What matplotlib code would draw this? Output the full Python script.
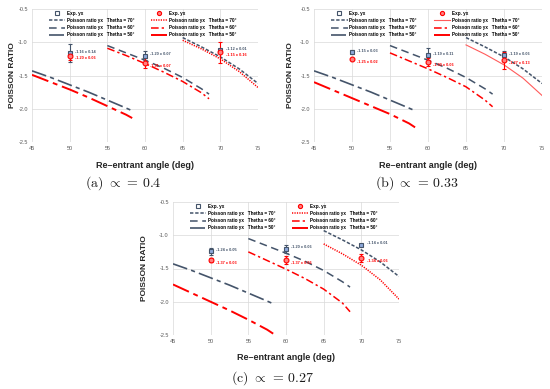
import matplotlib
matplotlib.use("Agg")
import matplotlib.pyplot as plt
from matplotlib.lines import Line2D

plt.rcParams['font.family'] = ['Liberation Sans', 'DejaVu Sans']
plt.rcParams['mathtext.fontset'] = 'cm'

# ---------------- data ----------------
x70 = [65, 67.5, 70, 72.5, 75]
x60 = [55, 57.5, 60, 62.5, 65, 67.5, 68.5]
x50 = [45, 47.5, 50, 52.5, 55, 57.5, 58.3]

blue70 = [-0.93, -1.07, -1.22, -1.40, -1.62]
blue60 = [-1.05, -1.16, -1.27, -1.39, -1.53, -1.70, -1.78]
blue50 = [-1.43, -1.53, -1.64, -1.75, -1.87, -1.99, -2.03]

red70_a = [-0.97, -1.10, -1.25, -1.44, -1.68]
red60_a = [-1.09, -1.20, -1.32, -1.45, -1.59, -1.76, -1.85]
red50_a = [-1.49, -1.60, -1.71, -1.83, -1.96, -2.09, -2.14]

red70_b = [-1.04, -1.18, -1.34, -1.54, -1.80]
red60_b = [-1.16, -1.28, -1.40, -1.53, -1.67, -1.87, -1.97]
red50_b = [-1.60, -1.72, -1.84, -1.96, -2.08, -2.22, -2.28]

red70_c = [-1.13, -1.28, -1.45, -1.67, -1.96]
red60_c = [-1.25, -1.38, -1.51, -1.65, -1.81, -2.02, -2.15]
red50_c = [-1.74, -1.87, -2.00, -2.13, -2.27, -2.42, -2.48]

exp_x = [50, 60, 70]
exp_blue_a = [-1.16, -1.20, -1.12]
err_blue_a = [0.14, 0.07, 0.01]
exp_red_a = [-1.20, -1.31, -1.15]
err_red_a = [0.06, 0.07, 0.16]

exp_blue_b = [-1.15, -1.19, -1.19]
err_blue_b = [0.03, 0.11, 0.06]
exp_red_b = [-1.25, -1.30, -1.27]
err_red_b = [0.02, 0.06, 0.13]

exp_blue_c = [-1.24, -1.20, -1.14]
err_blue_c = [0.05, 0.06, 0.01]
exp_red_c = [-1.37, -1.37, -1.34]
err_red_c = [0.03, 0.06, 0.06]

x_ticks = [45, 50, 55, 60, 65, 70, 75]
y_ticks = [-0.5, -1.0, -1.5, -2.0, -2.5]
captions = [r"$\mathrm{(a)}\ \propto\,=\,0.4$",
            r"$\mathrm{(b)}\ \propto\,=\,0.33$",
            r"$\mathrm{(c)}\ \propto\,=\,0.27$"]
thetas = ["70°", "60°", "50°"]

# ---------------- style ----------------
BLUE = '#44546A'
BLUE_FILL = '#8EA9DB'
RED = '#FF0000'
TXT = '#595959'
W, H = 550, 389

fig = plt.figure(figsize=(5.5, 3.89), dpi=100)


def px_axes(l, r, t, b):
    return fig.add_axes([l / W, 1 - b / H, (r - l) / W, (b - t) / H])


panels = [
    dict(rect=(32, 258, 9, 142), red=(red70_a, red60_a, red50_a), red70_style='dot',
         eb=(exp_blue_a, err_blue_a), er=(exp_red_a, err_red_a),
         ylab_x=12, cap=(123, 183), xlab_y=161),
    dict(rect=(314, 542, 9, 142), red=(red70_b, red60_b, red50_b), red70_style='solid',
         eb=(exp_blue_b, err_blue_b), er=(exp_red_b, err_red_b),
         ylab_x=291, cap=(417, 183), xlab_y=161),
    dict(rect=(173, 399, 202, 335), red=(red70_c, red60_c, red50_c), red70_style='dot',
         eb=(exp_blue_c, err_blue_c), er=(exp_red_c, err_red_c),
         ylab_x=145, cap=(272, 378), xlab_y=353),
]

b_styles = [dict(dashes=(2.2, 1.2), lw=1.1),
            dict(dashes=(5, 3), lw=1.1),
            dict(dashes=(9, 2.5, 2.5, 2.5), lw=1.2)]
r_styles = [None,
            dict(dashes=(5, 2, 1.5, 2), lw=1.1),
            dict(dashes=(9, 2.5, 2.5, 2.5), lw=1.4)]

for i, p in enumerate(panels):
    l, r, t, b = p['rect']
    ax = px_axes(l, r, t, b)
    ax.set_xlim(45, 75)
    ax.set_ylim(-2.5, -0.5)
    ax.set_xticks(x_ticks)
    ax.set_yticks(y_ticks)
    ax.set_yticklabels([f"{v:.1f}" for v in y_ticks])
    ax.tick_params(length=0, labelsize=4, colors=TXT, pad=3)
    ax.grid(True, color='#D9D9D9', lw=0.5)
    ax.set_axisbelow(True)
    for s in ax.spines.values():
        s.set_visible(False)

    # blue curves
    hb = []
    for xs, ys, st in zip((x70, x60, x50), (blue70, blue60, blue50), b_styles):
        ln, = ax.plot(xs, ys, color=BLUE, **st)
        hb.append(ln)
    # red curves
    hr = []
    rs = p['red']
    if p['red70_style'] == 'dot':
        ln, = ax.plot(x70, rs[0], color=RED, lw=1.1, ls=(0, (0.8, 0.8)))
    else:
        ln, = ax.plot(x70, rs[0], color='#FF5B5B', lw=0.8, ls='-')
    hr.append(ln)
    for xs, ys, st in zip((x60, x50), rs[1:], r_styles[1:]):
        ln, = ax.plot(xs, ys, color=RED, **st)
        hr.append(ln)

    # experimental points
    yb, eb = p['eb']
    yr, er = p['er']
    ax.errorbar(exp_x, yb, yerr=eb, fmt='s', ms=3.5, mfc=BLUE_FILL, mec=BLUE,
                mew=0.8, ecolor=BLUE, elinewidth=0.8, capsize=1.5, capthick=0.8)
    ax.errorbar(exp_x, yr, yerr=er, fmt='o', ms=3.5, mfc='#FF7F7F', mec=RED,
                mew=0.8, ecolor=RED, elinewidth=0.8, capsize=1.5, capthick=0.8)
    for xv, v, e in zip(exp_x, yb, eb):
        ax.text(xv + 0.7, v + 0.02, f"{v:.2f} ± {e:.2f}", fontsize=2.8,
                color=BLUE, va='center', fontweight='bold')
    for xv, v, e in zip(exp_x, yr, er):
        ax.text(xv + 0.7, v - 0.04, f"{v:.2f} ± {e:.2f}", fontsize=2.8,
                color=RED, va='center', fontweight='bold')

    # legends
    mb = Line2D([], [], ls='none', marker='s', ms=3, mfc='white', mec=BLUE, mew=0.8)
    mr = Line2D([], [], ls='none', marker='o', ms=3, mfc='#FF7F7F', mec=RED, mew=0.8)
    labels = ['Exp. yx'] + [f"Poisson ratio yx   Thetha = {t_}" for t_ in thetas]
    leg_kw = dict(frameon=False, handlelength=3.6, handletextpad=0.4,
                  labelspacing=0.45, borderaxespad=0, borderpad=0,
                  prop=dict(size=3.3, weight='bold'))
    lg1 = ax.legend([mb] + hb, labels, loc='upper left',
                    bbox_to_anchor=(0.075, 0.985), **leg_kw)
    ax.add_artist(lg1)
    ax.legend([mr] + hr, labels, loc='upper left',
              bbox_to_anchor=(0.525, 0.985), **leg_kw)

    ax.set_xlabel('Re\u2013entrant angle (deg)', fontsize=6.5, fontweight='bold',
                  color='#262626')
    ax.xaxis.set_label_coords(0.5, -(p['xlab_y'] - b) / (b - t))
    fig.text(p['ylab_x'] / W, 1 - ((t + b) / 2) / H, 'POISSON RATIO', rotation=90,
             fontsize=6, fontweight='bold', color='#262626', ha='center', va='center')
    fig.text(p['cap'][0] / W, 1 - p['cap'][1] / H, captions[i], fontsize=10,
             ha='center', va='center', color='#1a1a1a')

fig.savefig('out.png', dpi=100)
